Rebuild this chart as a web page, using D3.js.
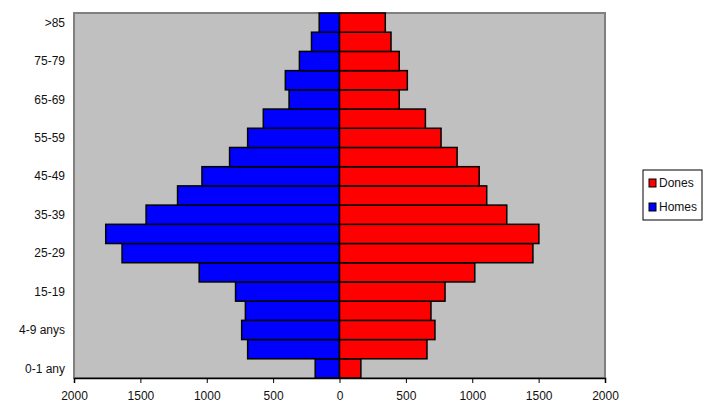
<!DOCTYPE html>
<html>
<head>
<meta charset="utf-8">
<script src="https://cdn.jsdelivr.net/npm/d3@7"></script>
<style>
  body { margin: 0; background: #fff; }
  text { font-family: "Liberation Sans", Arial, sans-serif; fill: #111; }
</style>
</head>
<body>
<svg id="chart" width="706" height="406"></svg>
<script>
// age groups, bottom to top
const ages = ["0-1 any", "1-4 anys", "4-9 anys", "10-14", "15-19", "20-24", "25-29", "30-34",
  "35-39", "40-44", "45-49", "50-54", "55-59", "60-64", "65-69", "70-74", "75-79", "80-84", ">85"];
const homes = [183, 692, 737, 709, 783, 1057, 1638, 1761, 1457, 1220, 1036, 828, 692, 574, 380, 408, 302, 211, 153];
const dones = [161, 659, 719, 689, 795, 1019, 1457, 1502, 1260, 1109, 1052, 886, 765, 647, 450, 511, 450, 388, 345];
const xTicks = [-2000, -1500, -1000, -500, 0, 500, 1000, 1500, 2000];
const legendItems = [{ name: "Dones", color: "#ff0000" }, { name: "Homes", color: "#0000ff" }];

const svg = d3.select("#chart");
const plot = { left: 74, right: 605, top: 13, bottom: 378 };

const x = d3.scaleLinear().domain([-2000, 2000]).range([plot.left, plot.right]);
const y = d3.scaleBand().domain(ages.slice().reverse()).range([plot.top, plot.bottom]).padding(0);

// plot background
svg.append("rect")
  .attr("x", plot.left).attr("y", plot.top)
  .attr("width", plot.right - plot.left).attr("height", plot.bottom - plot.top)
  .attr("fill", "#c0c0c0")
  .attr("stroke", "#808080").attr("stroke-width", 2);

// bars
const g = svg.append("g");
g.selectAll("rect.homes").data(ages).join("rect")
  .attr("class", "homes")
  .attr("x", (d, i) => x(-homes[i]))
  .attr("y", d => y(d))
  .attr("width", (d, i) => x(0) - x(-homes[i]))
  .attr("height", y.bandwidth())
  .attr("fill", "#0000ff").attr("stroke", "#000").attr("stroke-width", 1.5);

g.selectAll("rect.dones").data(ages).join("rect")
  .attr("class", "dones")
  .attr("x", x(0))
  .attr("y", d => y(d))
  .attr("width", (d, i) => x(dones[i]) - x(0))
  .attr("height", y.bandwidth())
  .attr("fill", "#ff0000").attr("stroke", "#000").attr("stroke-width", 1.5);

// x axis
const xAxis = svg.append("g")
  .attr("transform", `translate(0,${plot.bottom})`)
  .call(d3.axisBottom(x).tickValues(xTicks).tickSize(5).tickPadding(8)
    .tickFormat(d => Math.abs(d)));
xAxis.select(".domain").attr("stroke", "#000").attr("stroke-width", 1.5);
xAxis.selectAll(".tick line").attr("stroke", "#000");
xAxis.selectAll("text").attr("font-size", 12).style("fill", "#111");

// y labels, every other one
svg.append("g").selectAll("text")
  .data(ages.filter((d, i) => i % 2 === 0))
  .join("text")
  .attr("x", 65)
  .attr("y", d => y(d) + y.bandwidth() / 2)
  .attr("dy", "0.35em")
  .attr("text-anchor", "end")
  .attr("font-size", 12)
  .text(d => d);

// legend
const lg = svg.append("g").attr("transform", "translate(643,170)");
lg.append("rect").attr("width", 59).attr("height", 50)
  .attr("fill", "#fff").attr("stroke", "#000").attr("stroke-width", 1);
lg.selectAll("g.item").data(legendItems).join("g")
  .attr("class", "item")
  .attr("transform", (d, i) => `translate(6,${13 + i * 24})`)
  .each(function(d) {
    const it = d3.select(this);
    it.append("rect").attr("x", 0).attr("y", -4).attr("width", 7).attr("height", 8)
      .attr("fill", d.color).attr("stroke", "#000").attr("stroke-width", 1);
    it.append("text").attr("x", 10).attr("dy", "0.35em").attr("font-size", 12).text(d.name);
  });
</script>
</body>
</html>
